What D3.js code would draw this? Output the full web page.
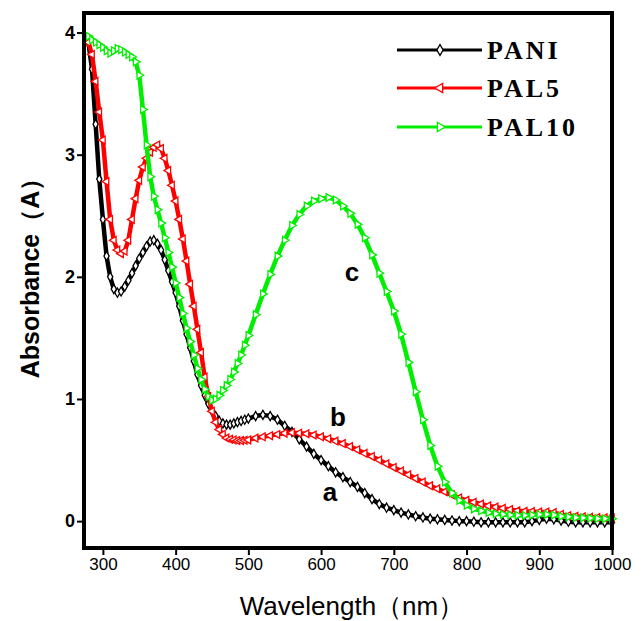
<!DOCTYPE html>
<html>
<head>
<meta charset="utf-8">
<script src="https://cdn.jsdelivr.net/npm/d3@7"></script>
<style>
  body { margin: 0; background: #fff; }
</style>
</head>
<body>
<script>
//global variables
var w = 643;
var h = 621;

// wavelength (nm), 5 nm steps to 500 then 10 nm steps
var wavelength = [280,285,290,295,300,305,310,315,320,325,330,335,340,345,350,355,360,365,370,375,
  380,385,390,395,400,405,410,415,420,425,430,435,440,445,450,455,460,465,470,475,480,485,490,495,500,
  510,520,530,540,550,560,570,580,590,600,610,620,630,640,650,660,670,680,690,700,
  710,720,730,740,750,760,770,780,790,800,810,820,830,840,850,860,870,880,890,900,
  910,920,930,940,950,960,970,980,990,1000];

// absorbance of each sample
var pani = [3.92,3.7,3.25,2.8,2.47,2.17,2.0,1.9,1.87,1.88,1.92,1.97,2.03,2.09,2.15,2.2,2.25,2.29,2.3,2.27,
  2.22,2.14,2.05,1.96,1.87,1.76,1.64,1.53,1.42,1.31,1.2,1.11,1.03,0.96,0.9,0.86,0.82,0.8,0.79,0.79,0.8,0.81,0.82,0.83,0.84,
  0.86,0.87,0.86,0.83,0.78,0.73,0.67,0.61,0.55,0.5,0.45,0.4,0.36,0.32,0.28,0.23,0.18,0.14,0.11,0.09,
  0.07,0.055,0.04,0.03,0.02,0.015,0.01,0.005,0.0,0.0,-0.005,-0.01,-0.01,-0.01,-0.01,-0.01,-0.01,-0.01,0.0,0.01,
  0.02,0.015,0.005,-0.005,-0.01,-0.01,-0.01,-0.01,-0.01,-0.01];

var pal5 = [3.92,3.82,3.6,3.35,3.12,2.78,2.47,2.3,2.22,2.19,2.21,2.3,2.47,2.64,2.79,2.9,2.97,3.02,3.06,3.08,
  3.05,2.97,2.87,2.75,2.62,2.47,2.31,2.13,1.94,1.76,1.57,1.38,1.18,1.02,0.9,0.81,0.75,0.71,0.68,0.67,0.665,0.66,0.66,0.662,0.665,
  0.68,0.69,0.7,0.71,0.72,0.725,0.72,0.715,0.705,0.69,0.675,0.655,0.635,0.61,0.585,0.555,0.53,0.5,0.47,0.44,
  0.41,0.38,0.35,0.32,0.29,0.265,0.24,0.215,0.19,0.17,0.155,0.14,0.125,0.115,0.105,0.095,0.085,0.08,0.078,0.075,
  0.075,0.07,0.055,0.045,0.04,0.035,0.032,0.03,0.027,0.025];

var pal10 = [3.97,3.94,3.92,3.9,3.88,3.85,3.83,3.85,3.87,3.86,3.84,3.82,3.8,3.76,3.65,3.37,3.08,2.82,2.66,2.55,
  2.44,2.32,2.2,2.08,1.95,1.83,1.7,1.58,1.47,1.36,1.25,1.16,1.08,1.02,0.99,1.0,1.03,1.07,1.11,1.16,1.22,1.29,1.36,1.44,1.52,
  1.69,1.86,2.02,2.17,2.3,2.42,2.51,2.58,2.62,2.64,2.65,2.63,2.58,2.52,2.43,2.32,2.18,2.03,1.88,1.72,
  1.53,1.3,1.06,0.83,0.62,0.45,0.32,0.23,0.17,0.13,0.1,0.085,0.07,0.06,0.055,0.05,0.048,0.047,0.05,0.055,
  0.055,0.05,0.04,0.035,0.03,0.027,0.025,0.022,0.02,0.02];

var seriesNames = ["PANI", "PAL5", "PAL10"];
var seriesColors = ["#000000", "#ff0000", "#00ee00"];
var curveLetters = ["a", "b", "c"];
var xTicks = [300, 400, 500, 600, 700, 800, 900, 1000];
var yTicks = [0, 1, 2, 3, 4];

// plot box (note: "top" is taken by window.top)
var plotLeft = 84, plotRight = 612, plotTop = 13, plotBottom = 548;

var svg = d3.select("body")
            .append("svg")
            .attr("width", w)
            .attr("height", h);

var x = d3.scaleLinear().domain([274, 1000]).range([plotLeft, plotRight]);
var y = d3.scaleLinear().domain([-0.22, 4.16]).range([plotBottom, plotTop]);

// markers: diamond, left triangle, right triangle
var diamond = d3.symbol().type(d3.symbolDiamond).size(24)();
var tri = d3.symbol().type(d3.symbolTriangle).size(26)();
var legDiamond = d3.symbol().type(d3.symbolDiamond).size(34)();
var legTri = d3.symbol().type(d3.symbolTriangle).size(36)();
var markerPath = [diamond, tri, tri];
var legendPath = [legDiamond, legTri, legTri];
var markerRot = [0, -90, 90];

var allSeries = [pani, pal5, pal10];

allSeries.forEach(function(vals, i) {
  var pts = wavelength.map(function(d, j) { return [d, vals[j]]; });
  var line = d3.line()
    .x(function(d) { return x(d[0]); })
    .y(function(d) { return y(d[1]); });

  // thick line so the dense markers read as a band
  svg.append("path")
    .datum(pts)
    .attr("d", line)
    .attr("fill", "none")
    .attr("stroke", seriesColors[i])
    .attr("stroke-width", 4.5)
    .attr("stroke-linejoin", "round");

  svg.append("g").selectAll("path")
    .data(pts)
    .enter().append("path")
    .attr("d", markerPath[i])
    .attr("transform", function(d) {
      return "translate(" + x(d[0]) + "," + y(d[1]) + ") rotate(" + markerRot[i] + ")";
    })
    .attr("fill", "#fff")
    .attr("stroke", seriesColors[i])
    .attr("stroke-width", 1.3);
});

// frame
svg.append("rect")
  .attr("x", plotLeft)
  .attr("y", plotTop)
  .attr("width", plotRight - plotLeft)
  .attr("height", plotBottom - plotTop)
  .attr("fill", "none")
  .attr("stroke", "#000")
  .attr("stroke-width", 4);

// axes
var xAxis = d3.axisBottom(x).tickValues(xTicks).tickSize(5).tickPadding(3).tickFormat(d3.format("d"));
var yAxis = d3.axisLeft(y).tickValues(yTicks).tickSize(5).tickPadding(2).tickFormat(d3.format("d"));

var gx = svg.append("g").attr("transform", "translate(0," + (plotBottom + 2) + ")").call(xAxis);
gx.select(".domain").remove();
gx.selectAll("line").attr("stroke-width", 2);
gx.selectAll("text")
  .attr("font-family", "Liberation Sans, Arial, sans-serif")
  .attr("font-size", 17)
  .attr("fill", "#000");

var gy = svg.append("g").attr("transform", "translate(" + (plotLeft - 2) + ",0)").call(yAxis);
gy.select(".domain").remove();
gy.selectAll("line").attr("stroke-width", 2);
gy.selectAll("text")
  .attr("font-family", "Liberation Sans, Arial, sans-serif")
  .attr("font-size", 18)
  .attr("font-weight", "bold")
  .attr("fill", "#000");

// axis titles
svg.append("text")
  .attr("x", 352)
  .attr("y", 615)
  .attr("text-anchor", "middle")
  .attr("font-family", "Liberation Sans, Arial, sans-serif")
  .attr("font-size", 26)
  .text("Wavelength（nm）");

svg.append("text")
  .attr("transform", "translate(39,272) rotate(-90)")
  .attr("text-anchor", "middle")
  .attr("font-family", "Liberation Sans, Arial, sans-serif")
  .attr("font-size", 25)
  .attr("font-weight", "bold")
  .text("Absorbance（A）");

// curve letters
var letterPos = [[330, 501], [338, 426], [352, 281]];
curveLetters.forEach(function(t, i) {
  svg.append("text")
    .attr("x", letterPos[i][0])
    .attr("y", letterPos[i][1])
    .attr("text-anchor", "middle")
    .attr("font-family", "Liberation Sans, Arial, sans-serif")
    .attr("font-size", 26)
    .attr("font-weight", "bold")
    .text(t);
});

// legend
var legY = [50, 88, 127];
seriesNames.forEach(function(name, i) {
  var g = svg.append("g");
  g.append("line")
    .attr("x1", 397).attr("x2", 482)
    .attr("y1", legY[i]).attr("y2", legY[i])
    .attr("stroke", seriesColors[i])
    .attr("stroke-width", 3);
  g.append("path")
    .attr("d", legendPath[i])
    .attr("transform", "translate(440," + legY[i] + ") rotate(" + markerRot[i] + ")")
    .attr("fill", "#fff")
    .attr("stroke", seriesColors[i])
    .attr("stroke-width", 1.3);
  g.append("text")
    .attr("x", 487)
    .attr("y", legY[i] + 9)
    .attr("font-family", "Liberation Serif, Times New Roman, serif")
    .attr("font-size", 26)
    .attr("font-weight", "bold")
    .attr("letter-spacing", 3)
    .text(name);
});
</script>
</body>
</html>
